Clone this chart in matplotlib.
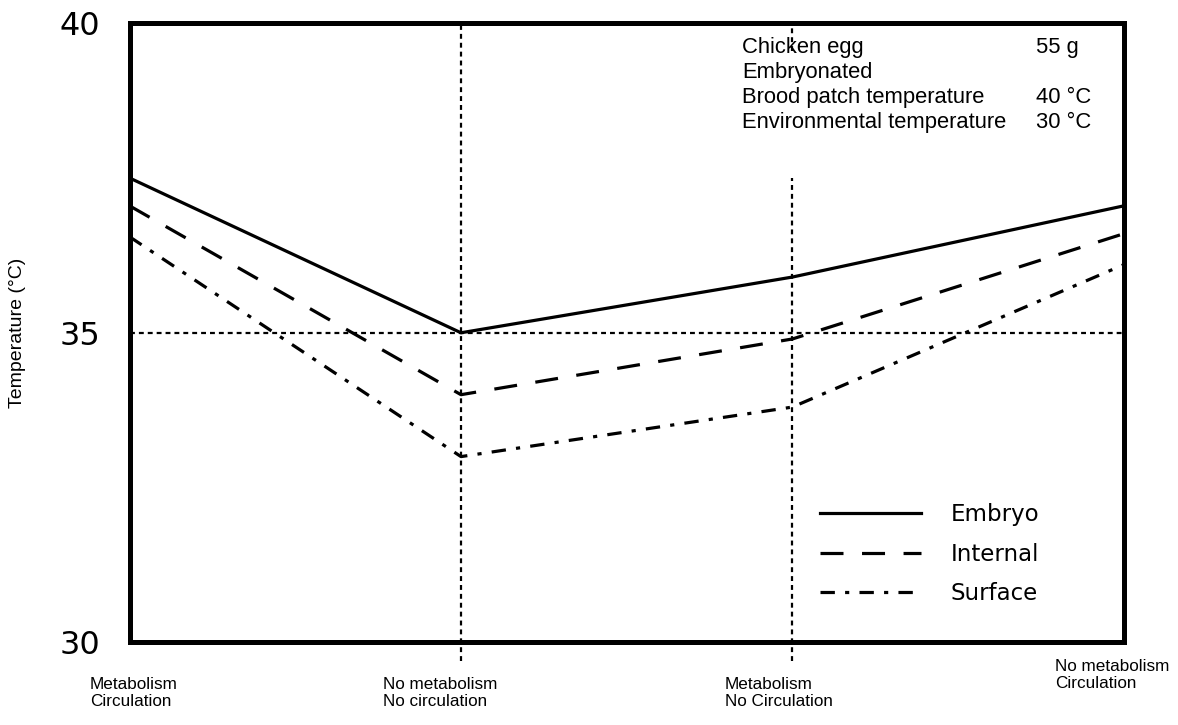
import matplotlib.pyplot as plt

# --- data ---
conditions = ["Metabolism\nCirculation", "No metabolism\nNo circulation",
              "Metabolism\nNo Circulation", "No metabolism\nCirculation"]
x_pos = [0, 1, 2, 3]
embryo = [37.5, 35.0, 35.9, 37.05]
internal = [37.05, 34.0, 34.9, 36.6]
surface = [36.55, 33.0, 33.8, 36.1]

info_labels = ["Chicken egg", "Embryonated", "Brood patch temperature",
               "Environmental temperature"]
info_values = ["55 g", "", "40 °C", "30 °C"]

# --- figure ---
fig = plt.figure(figsize=(11.78, 7.25), dpi=100)
ax = fig.add_axes([0.110, 0.114, 0.844, 0.854])
ax.set_xlim(0, 3)
ax.set_ylim(30, 40)

for s in ax.spines.values():
    s.set_linewidth(3.6)

grid_style = dict(color='black', lw=1.6, linestyle=(0, (2.2, 1.8)), zorder=1)
ax.axhline(35, **grid_style)
ax.plot([1, 1], [29.7, 40], clip_on=False, **grid_style)
ax.plot([2, 2], [29.7, 37.5], clip_on=False, **grid_style)
ax.plot([2, 2], [39.55, 40.0], clip_on=False, **grid_style)

ax.plot(x_pos, embryo, color='black', lw=2.3, label='Embryo', zorder=3)
ax.plot(x_pos, internal, color='black', lw=2.3, linestyle=(0, (7.2, 5.8)),
        label='Internal', zorder=3)
ax.plot(x_pos, surface, color='black', lw=2.3, linestyle=(0, (4.5, 3.2, 1.3, 3.2)),
        label='Surface', zorder=3)

# axis ticks
ax.set_yticks([30, 35, 40])
ax.set_yticklabels(["30", "35", "40"], fontsize=23, family='DejaVu Sans')
ax.tick_params(axis='y', length=0, pad=21)
ax.set_xticks([])
ax.set_ylabel("Temperature (°C)", fontsize=14, family='Liberation Sans')
ax.yaxis.set_label_coords(-0.104, 0.5)

# condition labels under the axis
label_x = [90, 383, 725, 1055]
label_y = [693, 693, 693, 675]
for txt, lx, ly in zip(conditions, label_x, label_y):
    fig.text(lx / 1178, 1 - ly / 725, txt, ha='left', va='center', fontsize=12.3,
             family='Liberation Sans', linespacing=1.15)

# info block
for i, (lab, val) in enumerate(zip(info_labels, info_values)):
    y = 1 - (48 + i * 24.7) / 725
    fig.text(742 / 1178, y, lab, ha='left', va='center', fontsize=15.8,
             family='Liberation Sans')
    if val:
        fig.text(1036 / 1178, y, val, ha='left', va='center', fontsize=15.8,
                 family='Liberation Sans')

ax.legend(frameon=False, loc='upper left', bbox_to_anchor=(0.674, 0.258),
          handlelength=4.4, handletextpad=1.3, labelspacing=0.72,
          prop={'family': 'DejaVu Sans', 'size': 16.5})

fig.savefig("out.png", dpi=100)
